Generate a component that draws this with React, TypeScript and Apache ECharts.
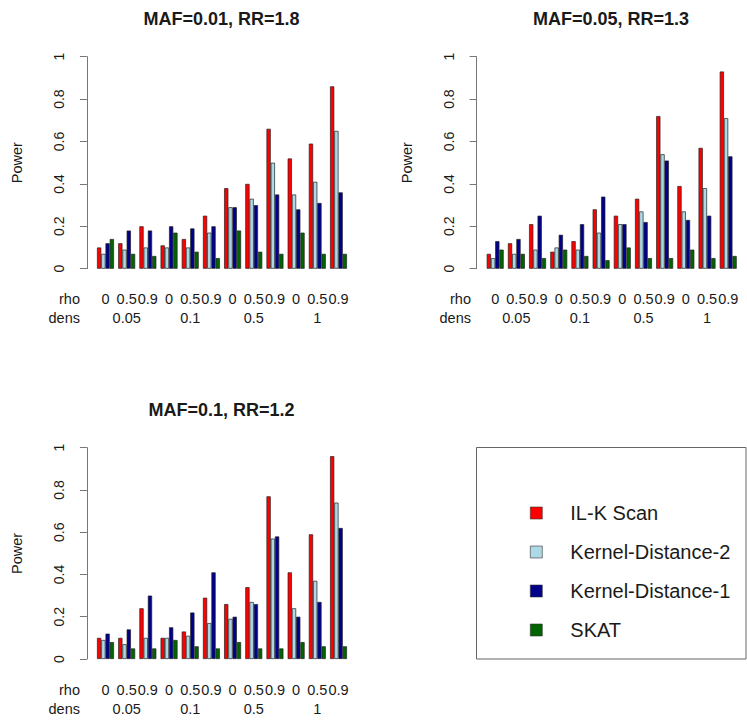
import React, { useEffect, useRef } from "react";
import * as echarts from "echarts";

const rhoLabels = ["0", "0.5", "0.9"];
const densLabels = ["0.05", "0.1", "0.5", "1"];
const categories = densLabels.flatMap((d) => rhoLabels.map((r) => `${d}|${r}`));

const methods = ["IL-K Scan", "Kernel-Distance-2", "Kernel-Distance-1", "SKAT"];
const methodColors = ["#ff0000", "#add8e6", "#00008b", "#006400"];

const panelTitles = ["MAF=0.01, RR=1.8", "MAF=0.05, RR=1.3", "MAF=0.1, RR=1.2"];

// Panel 1: MAF=0.01, RR=1.8
const ilk1 = [0.10, 0.12, 0.20, 0.11, 0.14, 0.25, 0.38, 0.40, 0.66, 0.52, 0.59, 0.86];
const kd2p1 = [0.07, 0.09, 0.10, 0.10, 0.10, 0.17, 0.29, 0.33, 0.50, 0.35, 0.41, 0.65];
const kd1p1 = [0.12, 0.18, 0.18, 0.20, 0.19, 0.20, 0.29, 0.30, 0.35, 0.28, 0.31, 0.36];
const skat1 = [0.14, 0.07, 0.06, 0.17, 0.08, 0.05, 0.18, 0.08, 0.07, 0.17, 0.07, 0.07];

// Panel 2: MAF=0.05, RR=1.3
const ilk2 = [0.07, 0.12, 0.21, 0.08, 0.13, 0.28, 0.25, 0.33, 0.72, 0.39, 0.57, 0.93];
const kd2p2 = [0.05, 0.07, 0.09, 0.10, 0.09, 0.17, 0.21, 0.27, 0.54, 0.27, 0.38, 0.71];
const kd1p2 = [0.13, 0.14, 0.25, 0.16, 0.21, 0.34, 0.21, 0.22, 0.51, 0.23, 0.25, 0.53];
const skat2 = [0.09, 0.07, 0.05, 0.09, 0.06, 0.04, 0.10, 0.05, 0.05, 0.09, 0.05, 0.06];

// Panel 3: MAF=0.1, RR=1.2
const ilk3 = [0.10, 0.10, 0.24, 0.10, 0.13, 0.29, 0.26, 0.34, 0.77, 0.41, 0.59, 0.96];
const kd2p3 = [0.09, 0.07, 0.10, 0.10, 0.11, 0.17, 0.19, 0.27, 0.57, 0.24, 0.37, 0.74];
const kd1p3 = [0.12, 0.14, 0.30, 0.15, 0.22, 0.41, 0.20, 0.26, 0.58, 0.20, 0.27, 0.62];
const skat3 = [0.08, 0.05, 0.05, 0.09, 0.06, 0.05, 0.08, 0.05, 0.05, 0.08, 0.06, 0.06];

const panelData = [
  [ilk1, kd2p1, kd1p1, skat1],
  [ilk2, kd2p2, kd1p2, skat2],
  [ilk3, kd2p3, kd1p3, skat3],
];

const FONT = "'Liberation Sans', Arial, Helvetica, sans-serif";

export default function App() {
  const ref = useRef<HTMLDivElement>(null);

  useEffect(() => {
    if (!ref.current) return;
    const chart = echarts.init(ref.current, undefined, { renderer: "svg" });

    const grids = [
      { left: 94.9, top: 56.7, width: 254.2, height: 212 },
      { left: 484.6, top: 56.7, width: 254.2, height: 212 },
      { left: 94.9, top: 447.7, width: 254.2, height: 211.3 },
    ];
    const titlePos = [
      { x: 221.5, y: 10 },
      { x: 611, y: 10 },
      { x: 221.5, y: 401 },
    ];
    const rowLabelPos = [
      { x: 80, y: 299 },
      { x: 471, y: 299 },
      { x: 80, y: 690 },
    ];

    const xAxes = grids.map((_, i) => ({
      type: "category",
      gridIndex: i,
      data: categories,
      axisLine: { show: false },
      axisTick: { show: false },
      splitLine: { show: false },
      axisLabel: {
        interval: 0,
        margin: 21,
        fontSize: 14.5,
        lineHeight: 19,
        color: "#1a1a1a",
        fontFamily: FONT,
        formatter: (_v: string, idx: number) =>
          rhoLabels[idx % 3] + "\n" + (idx % 3 === 1 ? densLabels[Math.floor(idx / 3)] : " "),
      },
    }));

    const yAxes = grids.map((_, i) => ({
      type: "value",
      gridIndex: i,
      min: 0,
      max: 1,
      interval: 0.2,
      offset: 8,
      name: "Power",
      nameLocation: "middle",
      nameGap: 62,
      nameRotate: 90,
      nameTextStyle: { fontSize: 14.5, color: "#1a1a1a", fontFamily: FONT },
      axisLine: { show: true, lineStyle: { color: "#777", width: 1 } },
      axisTick: { show: true, length: 7, lineStyle: { color: "#777" } },
      splitLine: { show: false },
      axisLabel: {
        rotate: 90,
        margin: 21,
        fontSize: 14,
        color: "#1a1a1a",
        fontFamily: FONT,
      },
    }));

    const series: any[] = [];
    panelData.forEach((panel, p) => {
      panel.forEach((vals, m) => {
        series.push({
          type: "bar",
          name: methods[m],
          xAxisIndex: p,
          yAxisIndex: p,
          data: vals,
          barGap: "0%",
          barCategoryGap: "20%",
          itemStyle: {
            color: methodColors[m],
            borderColor: "#222",
            borderWidth: 0.7,
          },
        });
      });
    });

    const graphics: any[] = [];
    rowLabelPos.forEach((pos) => {
      graphics.push({
        type: "text",
        x: pos.x,
        y: pos.y,
        style: {
          text: "rho",
          align: "right",
          verticalAlign: "middle",
          fontSize: 14.5,
          fill: "#1a1a1a",
          fontFamily: FONT,
        },
      });
      graphics.push({
        type: "text",
        x: pos.x,
        y: pos.y + 19,
        style: {
          text: "dens",
          align: "right",
          verticalAlign: "middle",
          fontSize: 14.5,
          fill: "#1a1a1a",
          fontFamily: FONT,
        },
      });
    });
    graphics.push({
      type: "rect",
      shape: { x: 476.5, y: 447.5, width: 269.5, height: 211.5 },
      style: { fill: "none", stroke: "#666", lineWidth: 1 },
    });

    chart.setOption({
      animation: false,
      backgroundColor: "#ffffff",
      title: panelTitles.map((t, i) => ({
        text: t,
        left: titlePos[i].x,
        top: titlePos[i].y,
        textAlign: "center",
        padding: 0,
        textStyle: { fontSize: 18, fontWeight: "bold", color: "#1a1a1a", fontFamily: FONT },
      })),
      legend: {
        data: methods,
        orient: "vertical",
        left: 530,
        top: 503,
        itemWidth: 12,
        itemHeight: 12,
        itemGap: 19,
        icon: "rect",
        padding: 0,
        textStyle: {
          fontSize: 20,
          lineHeight: 20,
          color: "#1a1a1a",
          fontFamily: FONT,
          padding: [0, 0, 0, 23],
        },
        itemStyle: { borderColor: "#333", borderWidth: 0.6 },
      },
      grid: grids,
      xAxis: xAxes,
      yAxis: yAxes,
      series,
      graphic: graphics,
    });

    return () => chart.dispose();
  }, []);

  return (
    <div
      ref={ref}
      style={{ position: "absolute", left: 0, top: 0, width: 747, height: 725, background: "#fff" }}
    />
  );
}
